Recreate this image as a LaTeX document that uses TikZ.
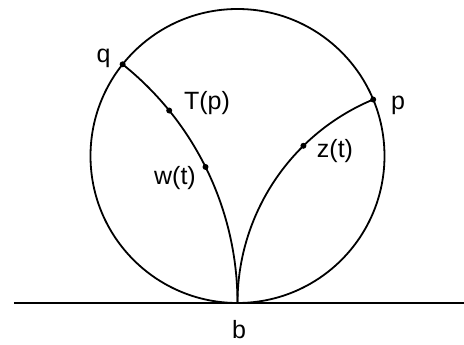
\documentclass[tikz,border=0pt]{standalone}
\usepackage{fontspec}
\setmainfont{Liberation Sans}
\usetikzlibrary{positioning,calc}

\begin{document}
\begin{tikzpicture}[
    x=1pt, y=1pt,
    curve/.style={line width=1.8pt, black},
    dot/.style={circle, fill=black, inner sep=0pt, minimum size=6pt},
    lbl/.style={font=\fontsize{25}{27}\selectfont, anchor=base, inner sep=0pt}
]
\useasboundingbox (-237.5,-189) rectangle (226.5,156);
\def\R{147}
\coordinate (o) at (0,0);
\coordinate (b) at (0,-\R);
\coordinate (q) at (141.4:\R);
\coordinate (p) at (22.6:\R);
\coordinate (cq) at (-2.078*\R,-\R);
\coordinate (cp) at (1.4995*\R,-\R);
\coordinate (lstart) at (-223.5,-\R);
\coordinate (lend) at (226.5,-\R);

\draw[curve] (o) circle[radius=\R];
\draw[curve] (lstart) -- (lend);
\draw[curve] (b) arc[start angle=0, end angle=51.4, radius=2.078*\R];
\draw[curve] (b) arc[start angle=180, end angle=112.6, radius=1.4995*\R];

\node[dot] (qdot) at (q) {};
\node[dot] (pdot) at (p) {};
\node[dot] (tp) at ($(cq)+(39.06:2.078*\R)$) {};
\node[dot] (wt) at ($(cq)+(26.45:2.078*\R)$) {};
\node[dot] (zt) at ($(cp)+(134.5:1.4995*\R)$) {};

\node[lbl] (qlbl) at (-134,93.2) {q};
\node[lbl] (plbl) at (160.5,46.5) {p};
\node[lbl] (tplbl) at (-30.5,46.5) {T(p)};
\node[lbl] (wtlbl) at (-62.5,-28.5) {w(t)};
\node[lbl] (ztlbl) at (97.5,-1.8) {z(t)};
\node[lbl] (blbl) at (1.5,-183) {b};
\end{tikzpicture}
\end{document}
